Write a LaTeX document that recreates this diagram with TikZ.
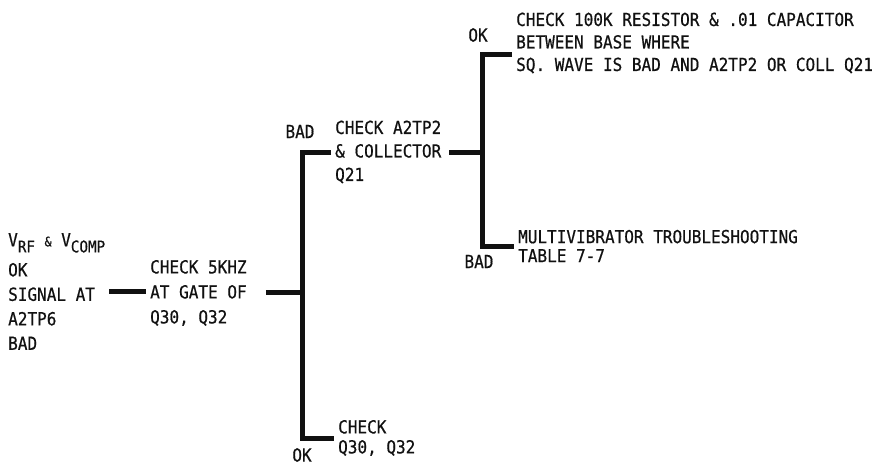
\documentclass[tikz,border=0pt]{standalone}
\usepackage{fontspec}
\setmainfont[FakeStretch=0.89,FakeBold=0.6]{DejaVu Sans Mono}
\usepackage{tikz}
\usetikzlibrary{calc,positioning}
\definecolor{ink}{HTML}{111111}
\newcommand{\lowtxt}[1]{\raisebox{-6pt}{\fontsize{16}{16}\selectfont #1}}
\newcommand{\smallamp}{{\fontsize{13}{13}\selectfont\&}}

\begin{document}
\begin{tikzpicture}[x=1pt, y=-1pt,
    txt/.style={anchor=west, align=left, inner xsep=4pt, inner ysep=0pt, text=ink},
    tag/.style={inner sep=0pt, text=ink, font=\fontsize{18}{18}\selectfont},
    lead/.style={ink, line width=5pt, line join=miter}]
  \useasboundingbox (0,0) rectangle (876,466);
  \node[txt, font=\fontsize{18}{24.5}\selectfont] (start) at (4,291.5)
    {V\lowtxt{RF} \smallamp{} V\lowtxt{COMP}\\[5.5pt]OK\\SIGNAL AT\\A2TP6\\BAD};
  \node[txt, font=\fontsize{18}{25}\selectfont] (gate) at (146,293)
    {CHECK 5KHZ\\AT GATE OF\\Q30, Q32};
  \node[txt, font=\fontsize{18}{23.5}\selectfont] (coll) at (331,152)
    {CHECK A2TP2\\\& COLLECTOR\\Q21};
  \node[txt, font=\fontsize{18}{20}\selectfont] (checkq) at (334,438)
    {CHECK\\Q30, Q32};
  \node[txt, font=\fontsize{18}{22.5}\selectfont] (res) at (512,43)
    {CHECK 100K RESISTOR \& .01 CAPACITOR\\BETWEEN BASE WHERE\\SQ. WAVE IS BAD AND A2TP2 OR COLL Q21};
  \node[txt, font=\fontsize{18}{19}\selectfont] (multi) at (514,246)
    {MULTIVIBRATOR TROUBLESHOOTING\\TABLE 7-7};
  \node[tag] (badA) at (300,131.5) {BAD};
  \node[tag] (okA) at (302,455) {OK};
  \node[tag] (okB) at (478,35) {OK};
  \node[tag] (badB) at (479,261.5) {BAD};
  \coordinate (splitA) at (302,292);
  \coordinate (splitB) at (482,152);
  \draw[lead] (start.east) -- (start.east -| gate.west);
  \draw[lead, shorten <=15pt] (gate.east |- splitA) -- (splitA);
  \draw[lead] (coll.west) -| (splitA) |- (checkq.west);
  \draw[lead, shorten <=4pt] (coll.east |- splitB) -- (splitB);
  \draw[lead] ([yshift=-11pt]res.west) -| (splitB) |- (multi.west);
\end{tikzpicture}
\end{document}
